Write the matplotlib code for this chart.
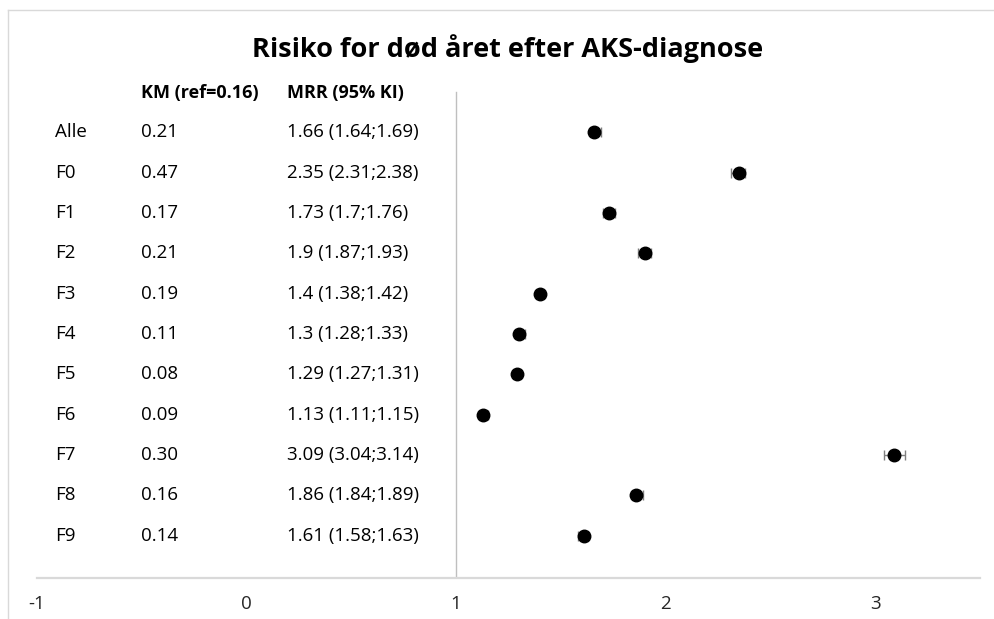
import matplotlib
matplotlib.use("Agg")
import matplotlib.pyplot as plt
from matplotlib.lines import Line2D

plt.rcParams['font.family'] = ['Open Sans', 'DejaVu Sans']

# data
groups = ['Alle', 'F0', 'F1', 'F2', 'F3', 'F4', 'F5', 'F6', 'F7', 'F8', 'F9']
km = [0.21, 0.47, 0.17, 0.21, 0.19, 0.11, 0.08, 0.09, 0.30, 0.16, 0.14]
mrr = [1.66, 2.35, 1.73, 1.90, 1.40, 1.30, 1.29, 1.13, 3.09, 1.86, 1.61]
lo = [1.64, 2.31, 1.70, 1.87, 1.38, 1.28, 1.27, 1.11, 3.04, 1.84, 1.58]
hi = [1.69, 2.38, 1.76, 1.93, 1.42, 1.33, 1.31, 1.15, 3.14, 1.89, 1.63]
xticks = [-1, 0, 1, 2, 3]

fig = plt.figure(figsize=(9.94, 6.19), dpi=100)
ax = fig.add_axes([0.0372, 0.0662, 0.9487, 0.7948])

n = len(groups)
ys = [n - i for i in range(n)]

err = [[m - l for m, l in zip(mrr, lo)], [h - m for m, h in zip(mrr, hi)]]
ax.errorbar(mrr, ys, xerr=err, fmt='none', ecolor='#7f7f7f', elinewidth=1,
            capsize=3.5, capthick=1, zorder=2)
ax.plot(mrr, ys, 'o', color='black', markersize=9, zorder=3)

# reference line at 1
ax.plot([1, 1], [-0.1, n + 1.0], color='#bfbfbf', lw=1, zorder=1)

# text columns
col_lab, col_km, col_mrr = -0.914, -0.504, 0.192
fs = 13.5
ax.text(col_km, n + 0.98, 'KM (ref=0.16)', fontsize=13, fontweight='bold',
        va='center', ha='left')
ax.text(col_mrr, n + 0.98, 'MRR (95% KI)', fontsize=13, fontweight='bold',
        va='center', ha='left')
for y, g, k, m, l, h in zip(ys, groups, km, mrr, lo, hi):
    ax.text(col_lab, y, g, fontsize=fs, va='center', ha='left')
    ax.text(col_km, y, f'{k:.2f}', fontsize=fs, va='center', ha='left')
    ax.text(col_mrr, y, f'{m:g} ({l:g};{h:g})', fontsize=fs,
            va='center', ha='left')

ax.set_xlim(-1, 3.5)
ax.set_ylim(-0.05, 12.15)
ax.set_xticks(xticks)
ax.set_xticklabels([str(t) for t in xticks], fontsize=13.5, color='#262626')
ax.tick_params(axis='x', length=0, pad=12)
ax.set_yticks([])
for s in ['top', 'right', 'left']:
    ax.spines[s].set_visible(False)
ax.spines['bottom'].set_color('#d9d9d9')
ax.spines['bottom'].set_linewidth(1.6)

fig.text(0.511, 0.921, 'Risiko for død året efter AKS-diagnose', fontsize=19.5,
         fontweight='bold', ha='center', va='center')

# chart frame
fig.add_artist(Line2D([8 / 994, 1], [1 - 10 / 619] * 2, color='#d9d9d9', lw=1))
fig.add_artist(Line2D([8 / 994] * 2, [0, 1 - 10 / 619], color='#d9d9d9', lw=1))

fig.savefig('out.png', dpi=100)
